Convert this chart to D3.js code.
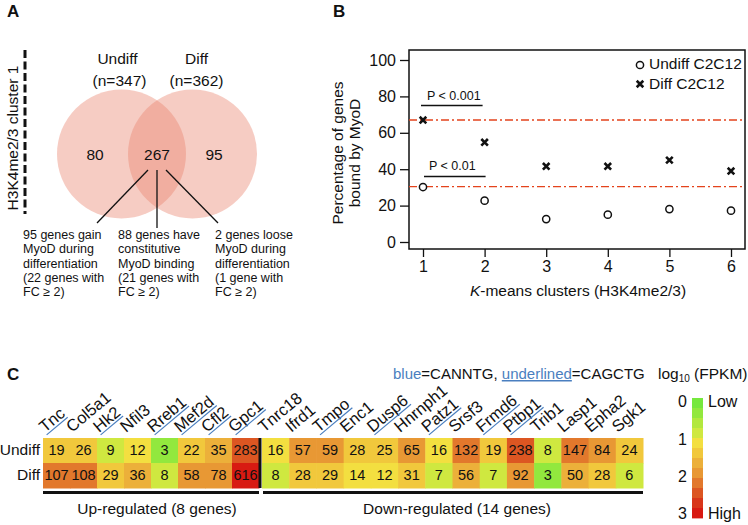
<!DOCTYPE html>
<html><head><meta charset="utf-8">
<script src="https://cdn.jsdelivr.net/npm/d3@7"></script>
<style>
body{margin:0;background:#fff}
svg{display:block}
text{font-family:"Liberation Sans",Arial,Helvetica,sans-serif;fill:#111}
</style>
</head><body><svg id="c" width="748" height="525"></svg>
<script>
// ---------- Panel A data ----------
const vennSets = ["Undiff", "Diff"];
const vennTotals = [347, 362];
const vennRegions = [80, 267, 95];
const vennNotes = [
  ["95 genes gain", "MyoD during", "differentiation", "(22 genes with", "FC \u2265 2)"],
  ["88 genes have", "constitutive", "MyoD binding", "(21 genes with", "FC \u2265 2)"],
  ["2 genes loose", "MyoD during", "differentiation", "(1 gene with", "FC \u2265 2)"]
];
const sideLabel = "H3K4me2/3 cluster 1";
// ---------- Panel B data ----------
const clusters = [1, 2, 3, 4, 5, 6];
const undiffPct = [30.2, 22.7, 12.6, 15.0, 18.1, 17.2];
const diffPct = [67.0, 54.8, 41.6, 41.6, 45.0, 39.0];
const yTicks = [0, 20, 40, 60, 80, 100];
const refLines = [67.0, 30.4];
const pLabels = ["P < 0.001", "P < 0.01"];
const pLevels = [75, 36];
// ---------- Panel C data ----------
const upGenes = ["Tnc", "Col5a1", "Hk2", "Nfil3", "Rreb1", "Mef2d", "Cfl2", "Gpc1"];
const upMotif = ["u", "n", "u", "n", "u", "u", "u", "u"];
const upUndiff = [19, 26, 9, 12, 3, 22, 35, 283];
const upDiff = [107, 108, 29, 36, 8, 58, 78, 616];
const downGenes = ["Tnrc18", "Ifrd1", "Tmpo", "Enc1", "Dusp6", "Hnrnph1", "Patz1", "Srsf3", "Frmd6", "Ptbp1", "Trib1", "Lasp1", "Epha2", "Sgk1"];
const downMotif = ["n", "b", "u", "n", "u", "n", "u", "n", "u", "u", "b", "b", "n", "n"];
const downUndiff = [16, 57, 59, 28, 25, 65, 16, 132, 19, 238, 8, 147, 84, 24];
const downDiff = [8, 28, 29, 14, 12, 31, 7, 56, 7, 92, 3, 50, 28, 6];
const rowNames = ["Undiff", "Diff"];
const colorTicks = [0, 1, 2, 3];
const binColors = ["#76e83e", "#92e83e", "#b2e83e", "#cfe840", "#f3df40", "#f1c83c",
                   "#ecb03a", "#e89834", "#e2782c", "#dc5622", "#d8361a", "#d81a12"];

const svg = d3.select("#c");
const BLUE = "#4a7fc0";
const FONT = '"Liberation Sans",Arial,Helvetica,sans-serif';

function panelLetter(t, x, y) {
  svg.append("text").attr("x", x).attr("y", y).attr("font-size", 17).attr("font-weight", "bold").text(t);
}
panelLetter("A", 7, 17);
panelLetter("B", 333, 17);
panelLetter("C", 7, 380);

// ================= Panel A =================
const A = svg.append("g");
A.append("line").attr("x1", 25).attr("x2", 25).attr("y1", 50).attr("y2", 214)
  .attr("stroke", "#111").attr("stroke-width", 3).attr("stroke-dasharray", "8,3.5");
A.append("text").attr("transform", "translate(18,138) rotate(-90)")
  .attr("text-anchor", "middle").attr("font-size", 15.5).text(sideLabel);

const vx = d3.scaleLinear().domain([0, 1]).range([121.5, 192.5]);
const vcy = 154, vr = 64.5;
A.selectAll("circle.v").data(vennSets).join("circle")
  .attr("cx", (d, i) => vx(i)).attr("cy", vcy).attr("r", vr)
  .attr("fill", "#ea8670").attr("fill-opacity", 0.42);
A.selectAll("text.vn").data(vennSets).join("text")
  .attr("x", (d, i) => vx(i) - 4 + i * 8).attr("y", 60).attr("text-anchor", "middle")
  .attr("dominant-baseline", "middle").attr("font-size", 15.5).text(d => d);
A.selectAll("text.vt").data(vennTotals).join("text")
  .attr("x", (d, i) => vx(i) - 2 + i * 6).attr("y", 82).attr("text-anchor", "middle")
  .attr("dominant-baseline", "middle").attr("font-size", 15.5).text(d => "(n=" + d + ")");
const regionX = [95, 157, 214];
A.selectAll("text.vr").data(vennRegions).join("text")
  .attr("x", (d, i) => regionX[i]).attr("y", 156).attr("text-anchor", "middle")
  .attr("dominant-baseline", "middle").attr("font-size", 15.5).text(d => d);
const leaders = [[148, 170, 97, 223], [157, 170, 157, 228], [166, 170, 218, 223]];
A.selectAll("line.ld").data(leaders).join("line")
  .attr("x1", d => d[0]).attr("y1", d => d[1]).attr("x2", d => d[2]).attr("y2", d => d[3])
  .attr("stroke", "#111").attr("stroke-width", 1.3);
const noteX = [23, 118, 215];
vennNotes.forEach((lines, i) => {
  const t = A.append("text").attr("font-size", 12.5);
  lines.forEach((l, j) => t.append("tspan").attr("x", noteX[i]).attr("y", 239 + j * 14.3).text(l));
});

// ================= Panel B =================
const B = svg.append("g");
const box = {l: 409, r: 745, t: 50, b: 249};
const x = d3.scaleLinear().domain([1, 6]).range([423, 731]);
const y = d3.scaleLinear().domain([0, 100]).range([242, 60]);
B.append("rect").attr("x", box.l).attr("y", box.t).attr("width", box.r - box.l).attr("height", box.b - box.t)
  .attr("fill", "none").attr("stroke", "#111").attr("stroke-width", 1.5);
const yAxis = B.append("g").attr("transform", `translate(${box.l},0)`)
  .call(d3.axisLeft(y).tickValues(yTicks).tickFormat(d3.format("d")).tickSize(9).tickPadding(4));
const xAxis = B.append("g").attr("transform", `translate(0,${box.b})`)
  .call(d3.axisBottom(x).tickValues(clusters).tickFormat(d3.format("d")).tickSize(8).tickPadding(4));
[yAxis, xAxis].forEach(g => {
  g.select(".domain").remove();
  g.selectAll("line").attr("stroke", "#111").attr("stroke-width", 1.3);
  g.selectAll("text").attr("font-size", 16).attr("font-family", FONT).attr("fill", "#111");
});
B.append("text").attr("x", 578).attr("y", 296).attr("text-anchor", "middle").attr("font-size", 15.5)
  .call(t => { t.append("tspan").attr("font-style", "italic").text("K"); t.append("tspan").text("-means clusters (H3K4me2/3)"); });
const yl = B.append("text").attr("transform", "translate(346,153) rotate(-90)").attr("text-anchor", "middle").attr("font-size", 15.5);
yl.append("tspan").attr("x", 0).attr("dy", -3).text("Percentage of genes");
yl.append("tspan").attr("x", 0).attr("dy", 17).text("bound by MyoD");

// reference lines
B.selectAll("line.ref").data(refLines).join("line")
  .attr("x1", box.l).attr("x2", box.r).attr("y1", d => y(d)).attr("y2", d => y(d))
  .attr("stroke", "#e4431c").attr("stroke-width", 1.4).attr("stroke-dasharray", "8,3,2,3");
// p-value brackets
B.selectAll("line.p").data(pLevels).join("line")
  .attr("x1", (d, i) => x(1) - 2 + i * 3).attr("x2", (d, i) => x(2) - 2 + i * 3)
  .attr("y1", d => y(d)).attr("y2", d => y(d)).attr("stroke", "#111").attr("stroke-width", 1.3);
B.selectAll("text.p").data(pLabels).join("text")
  .attr("x", (d, i) => x(1) + 4 + i * 2).attr("y", (d, i) => y(pLevels[i]) - 6)
  .attr("font-size", 12.5).text(d => d);
// points
B.selectAll("circle.u").data(undiffPct).join("circle")
  .attr("cx", (d, i) => x(clusters[i])).attr("cy", d => y(d)).attr("r", 3.6)
  .attr("fill", "#fff").attr("stroke", "#111").attr("stroke-width", 1.5);
const cross = d3.symbol().type(d3.symbolX).size(30);
B.selectAll("path.dx").data(diffPct).join("path")
  .attr("d", cross).attr("transform", (d, i) => `translate(${x(clusters[i])},${y(d)})`)
  .attr("fill", "none").attr("stroke", "#111").attr("stroke-width", 2.6);
// legend
B.append("circle").attr("cx", 640).attr("cy", 65).attr("r", 3.6).attr("fill", "#fff").attr("stroke", "#111").attr("stroke-width", 1.5);
B.append("path").attr("d", cross).attr("transform", "translate(640,84)").attr("fill", "none").attr("stroke", "#111").attr("stroke-width", 2.6);
B.append("text").attr("x", 649).attr("y", 65).attr("dominant-baseline", "middle").attr("font-size", 15.5).text("Undiff C2C12");
B.append("text").attr("x", 649).attr("y", 85).attr("dominant-baseline", "middle").attr("font-size", 15.5).text("Diff C2C12");

// ================= Panel C =================
const C = svg.append("g");
const rowY = d3.scaleBand().domain(rowNames).range([438, 488]);
const xUp = d3.scaleBand().domain(upGenes).range([43, 259]);
const xDown = d3.scaleBand().domain(downGenes).range([262, 643]);
function binColor(v) {
  const b = Math.max(0, Math.min(binColors.length - 1, Math.floor(Math.log10(v) / 0.25)));
  return binColors[b];
}
function drawBlock(genes, motif, und, dif, xs) {
  const rows = [und, dif];
  rows.forEach((vals, r) => {
    C.selectAll(null).data(vals).join("rect")
      .attr("x", (d, i) => xs(genes[i])).attr("y", rowY(rowNames[r]))
      .attr("width", xs.bandwidth() + 0.5).attr("height", rowY.bandwidth() + 0.5)
      .attr("fill", d => binColor(d));
    C.selectAll(null).data(vals).join("text")
      .attr("x", (d, i) => xs(genes[i]) + xs.bandwidth() / 2).attr("y", rowY(rowNames[r]) + rowY.bandwidth() / 2 + 1)
      .attr("text-anchor", "middle").attr("dominant-baseline", "middle").attr("font-size", 14.5).text(d => d);
  });
  genes.forEach((g, i) => {
    const gg = C.append("g").attr("transform", `translate(${xs(g) + 2},433) rotate(-40)`);
    const t = gg.append("text").attr("font-size", 16.5)
      .attr("fill", motif[i] === "n" ? "#111" : BLUE).text(g);
    if (motif[i] === "u") {
      const w = t.node().getComputedTextLength();
      gg.append("line").attr("x1", 0).attr("x2", w).attr("y1", 2.5).attr("y2", 2.5)
        .attr("stroke", BLUE).attr("stroke-width", 1.2);
    }
  });
}
drawBlock(upGenes, upMotif, upUndiff, upDiff, xUp);
drawBlock(downGenes, downMotif, downUndiff, downDiff, xDown);
// separator bar
C.append("rect").attr("x", 258.5).attr("y", 438).attr("width", 3).attr("height", 50).attr("fill", "#111");
// row labels
C.selectAll("text.rn").data(rowNames).join("text")
  .attr("x", 40).attr("y", d => rowY(d) + rowY.bandwidth() / 2).attr("text-anchor", "end")
  .attr("dominant-baseline", "middle").attr("font-size", 15.5).text(d => d);
// group underlines
const groups = [{x0: 43, x1: 259, label: "Up-regulated (8 genes)"}, {x0: 263, x1: 643, label: "Down-regulated (14 genes)"}];
C.selectAll("rect.gb").data(groups).join("rect")
  .attr("x", d => d.x0).attr("y", 491).attr("width", d => d.x1 - d.x0).attr("height", 3).attr("fill", "#111");
C.selectAll("text.gl").data(groups).join("text")
  .attr("x", d => (d.x0 + d.x1) / 2 + (d.x0 > 100 ? 4 : 6)).attr("y", 510).attr("text-anchor", "middle")
  .attr("dominant-baseline", "middle").attr("font-size", 15.5).text(d => d.label);
// motif legend
const ml = C.append("text").attr("x", 393).attr("y", 375).attr("dominant-baseline", "middle").attr("font-size", 15);
ml.append("tspan").attr("fill", BLUE).text("blue");
ml.append("tspan").text("=CANNTG, ");
ml.append("tspan").attr("fill", BLUE).attr("text-decoration", "underline").text("underlined");
ml.append("tspan").text("=CAGCTG");
// color legend
const lt = C.append("text").attr("x", 658).attr("y", 375).attr("dominant-baseline", "middle").attr("font-size", 15.5);
lt.append("tspan").text("log");
lt.append("tspan").attr("font-size", 10).attr("dy", 4).text("10");
lt.append("tspan").attr("dy", -4).text(" (FPKM)");
const cb = d3.scaleLinear().domain([0, binColors.length]).range([398, 518]);
C.selectAll("rect.cb").data(binColors).join("rect")
  .attr("x", 692).attr("y", (d, i) => cb(i)).attr("width", 11).attr("height", cb(1) - cb(0) + 0.4).attr("fill", d => d);
const cl = d3.scaleLinear().domain([0, 3]).range([403, 515]);
C.selectAll("text.ct").data(colorTicks).join("text")
  .attr("x", 687).attr("y", d => cl(d)).attr("text-anchor", "end").attr("dominant-baseline", "middle")
  .attr("font-size", 16).text(d => d);
C.append("text").attr("x", 708).attr("y", cl(0)).attr("dominant-baseline", "middle").attr("font-size", 16).text("Low");
C.append("text").attr("x", 708).attr("y", cl(3)).attr("dominant-baseline", "middle").attr("font-size", 16).text("High");
</script></body></html>
